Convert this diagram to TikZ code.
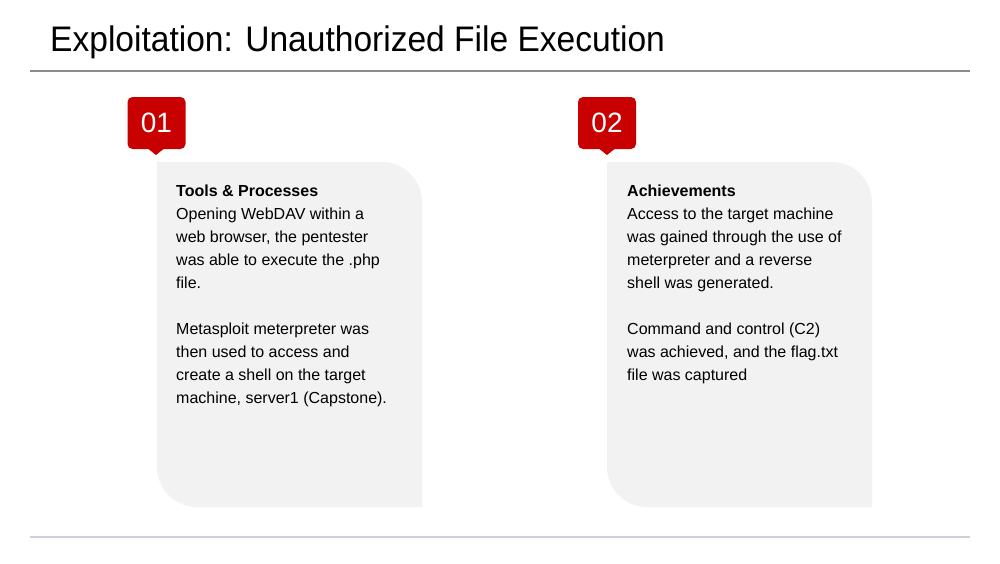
\documentclass[tikz,border=0pt]{standalone}
\usepackage{fontspec}
\setmainfont{Liberation Sans}
\newfontfamily\titlefont[FakeStretch=0.945]{Liberation Sans}
\definecolor{tagred}{HTML}{C80000}
\definecolor{cardgray}{HTML}{F2F2F2}
\definecolor{topline}{HTML}{8C8C8C}
\definecolor{botline}{HTML}{CCD1D9}
\begin{document}
\begin{tikzpicture}[x=1pt,y=-1pt,
  tagbox/.style={fill=tagred,rounded corners=5pt,minimum width=58pt,minimum height=52pt,inner sep=0pt,text=white,font=\fontsize{28}{30}\selectfont},
  cardtext/.style={anchor=north west,inner sep=0pt,align=left,font=\fontsize{16}{23}\selectfont,text=black},
  titletext/.style={anchor=base west,inner sep=0pt,font=\titlefont\fontsize{35.5}{40}\selectfont,text=black}]
\useasboundingbox[fill=white] (0,0) rectangle (1000,563);
% title
\node[titletext] (title) at (50,51) {Exploitation: Unauthorized File Execution};
\draw[topline,line width=1.2pt] (30,71) coordinate (tl1) -- (970,71) coordinate (tl2);
\draw[botline,line width=1.2pt] (30,537) coordinate (bl1) -- (970,537) coordinate (bl2);
% card 1
\fill[cardgray] (157,162) -- (382,162) .. controls (404,162) and (422,180) .. (422,202)
  -- (422,507) -- (197,507) .. controls (175,507) and (157,489) .. (157,467) -- cycle;
% card 2
\fill[cardgray] (607,162) -- (832,162) .. controls (854,162) and (872,180) .. (872,202)
  -- (872,507) -- (647,507) .. controls (625,507) and (607,489) .. (607,467) -- cycle;
% tags
\fill[tagred] (146,147) -- (156,155) -- (166,147) -- cycle;
\node[tagbox] (tag1) at (156.5,123) {01};
\fill[tagred] (597,147) -- (607,155) -- (617,147) -- cycle;
\node[tagbox] (tag2) at (607,123) {02};
% texts
\node[cardtext] (text1) at (176,185) {\textbf{Tools \& Processes}\\
Opening WebDAV within a\\
web browser, the pentester\\
was able to execute the .php\\
file.\\[23pt]
Metasploit meterpreter was\\
then used to access and\\
create a shell on the target\\
machine, server1 (Capstone).};
\node[cardtext] (text2) at (627,185) {\textbf{Achievements}\\
Access to the target machine\\
was gained through the use of\\
meterpreter and a reverse\\
shell was generated.\\[23pt]
Command and control (C2)\\
was achieved, and the flag.txt\\
file was captured};
\end{tikzpicture}
\end{document}
